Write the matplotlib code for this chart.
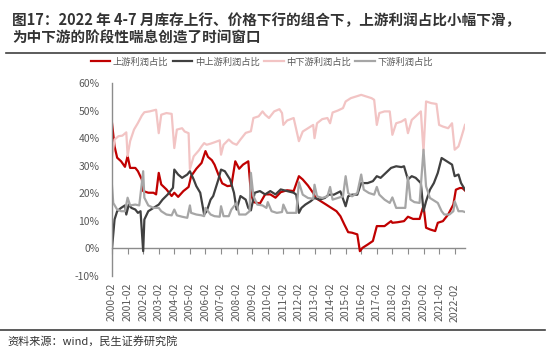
import matplotlib
matplotlib.use('Agg')
import matplotlib.pyplot as plt
import matplotlib.dates as mdates
import pandas as pd
from matplotlib.lines import Line2D

plt.rcParams['font.family'] = ['Noto Sans CJK SC', 'DejaVu Sans']

# ---------------- data (% share of profits) ----------------
series_names = ["上游利润占比", "中上游利润占比", "中下游利润占比", "下游利润占比"]

up_dates = ["2000-02", "2000-04", "2000-06", "2000-09", "2000-12",
            "2001-02", "2001-04", "2001-08", "2001-10",
            "2002-01", "2002-02", "2002-06", "2002-10", "2002-12",
            "2003-02", "2003-04", "2003-08", "2003-12",
            "2004-02", "2004-05", "2004-09",
            "2005-01", "2005-03", "2005-07", "2005-11",
            "2006-02", "2006-04", "2006-07", "2006-09", "2006-12",
            "2007-03", "2007-07", "2007-10",
            "2008-01", "2008-04", "2008-07", "2008-11",
            "2009-01", "2009-03", "2009-08", "2009-12",
            "2010-04", "2010-08", "2010-12",
            "2011-05", "2011-10",
            "2012-02", "2012-05", "2012-09",
            "2013-01", "2013-03", "2013-07", "2013-11",
            "2014-03", "2014-07", "2014-10",
            "2015-01", "2015-04", "2015-07", "2015-11",
            "2016-01", "2016-03", "2016-07", "2016-11",
            "2017-02", "2017-08",
            "2018-01", "2018-02", "2018-06", "2018-11",
            "2019-02", "2019-06", "2019-11",
            "2020-02", "2020-04", "2020-07", "2020-11",
            "2021-01", "2021-05", "2021-09",
            "2022-01", "2022-03", "2022-06", "2022-08", "2022-10"]
up_vals = [45.5, 37, 32.9, 31.6, 29.6,
           33.5, 29.2, 29.2, 28,
           25, 20.8, 20.2, 20.2, 19.6,
           27.4, 23.2, 21.4, 19,
           20.2, 18.7, 20.8,
           22.3, 26.2, 28.9, 31,
           35.3, 33.2, 32, 30.4, 26.8,
           23.6, 22.6, 22.8,
           31.6, 28.9, 30.4, 31.6,
           20.2, 16.8, 16.3, 19.6,
           19.6, 18.4, 20.4,
           21.1, 20.8,
           26.2, 25, 22.8,
           20.1, 18.3, 17.1, 15.9,
           14.7, 13.5, 11.7,
           8.7, 5.9, 5.7, 5.1,
           -1, 0.2, 1.4, 2.7,
           8.1, 8.1,
           9.9, 9.3, 9.5, 9.9,
           11.5, 10.7, 10.7,
           15.5, 7.5, 6.9, 6.3,
           9.3, 9.9, 12.3,
           15.9, 21.3, 21.9, 21.9, 21.0]

midup_dates = ["2000-02", "2000-04", "2000-06", "2000-09", "2000-12",
               "2001-01", "2001-03", "2001-05", "2001-08", "2001-10", "2001-12",
               "2002-02", "2002-03", "2002-06", "2002-10",
               "2003-02", "2003-05", "2003-09",
               "2004-01", "2004-02", "2004-05", "2004-08", "2004-12",
               "2005-02", "2005-05", "2005-07", "2005-10",
               "2006-01", "2006-03", "2006-06", "2006-08", "2006-12",
               "2007-02", "2007-05", "2007-09", "2007-12",
               "2008-02", "2008-05", "2008-09", "2008-11",
               "2009-01", "2009-04", "2009-08", "2009-12",
               "2010-04", "2010-08", "2010-12",
               "2011-05", "2011-10", "2011-12",
               "2012-02", "2012-04", "2012-07", "2012-11",
               "2013-02", "2013-06", "2013-10",
               "2014-01", "2014-05", "2014-10",
               "2015-02", "2015-04", "2015-07", "2015-11",
               "2016-02", "2016-07", "2016-11",
               "2017-02", "2017-05", "2017-09",
               "2018-01", "2018-05", "2018-09", "2018-11",
               "2019-02", "2019-05", "2019-08", "2019-12",
               "2020-02", "2020-04", "2020-07", "2020-10",
               "2021-01", "2021-04", "2021-08", "2021-12",
               "2022-02", "2022-05", "2022-07", "2022-10"]
midup_vals = [0, 10.5, 13.5, 14.7, 15.6,
              12.3, 15.9, 14.7, 14.1, 12.9, 13.5,
              -1, 10.5, 13.5, 14.7,
              15.9, 17.7, 19.6,
              22, 28.6, 26.8, 25.6, 26.8,
              28, 25, 22.6, 20.2,
              12.3, 13.5, 17.7, 19, 25,
              28.6, 28, 25, 20.2,
              14.1, 19, 17.7, 14.7,
              13.8, 20.2, 20.8, 19.6,
              20.8, 19.6, 21.4,
              20.8, 20.2, 19.5,
              12.9, 14.7, 15.9, 17.1,
              18.3, 17.7, 18.3,
              19.5, 19.5, 20.7,
              15.3, 18.9, 19.5, 19.5,
              23.7, 23.7, 24.4,
              26.2, 25.6, 27.4,
              29.2, 29.8, 29.5, 29.8,
              25, 26.2, 25.6, 23.7,
              13.5, 17.1, 21.3, 23.7,
              27.4, 32.8, 31.6, 30.4,
              26.2, 26.8, 23.7, 21.3]

middown_dates = ["2000-02", "2000-04", "2000-07", "2000-10",
                 "2001-01", "2001-02", "2001-04", "2001-07", "2001-10",
                 "2002-01", "2002-03", "2002-07", "2002-12",
                 "2003-02", "2003-04", "2003-08", "2003-12",
                 "2004-02", "2004-04", "2004-08", "2004-10",
                 "2005-01", "2005-02", "2005-05", "2005-09", "2005-11",
                 "2006-01", "2006-03", "2006-06", "2006-09",
                 "2007-01", "2007-02", "2007-04", "2007-08", "2007-11",
                 "2008-02", "2008-05", "2008-09",
                 "2009-01", "2009-03", "2009-07", "2009-10", "2009-12",
                 "2010-03", "2010-07", "2010-11",
                 "2011-01", "2011-02", "2011-05", "2011-10",
                 "2012-02", "2012-05", "2012-09",
                 "2013-01", "2013-02", "2013-04", "2013-08", "2013-12",
                 "2014-02", "2014-04", "2014-08", "2014-12",
                 "2015-02", "2015-06", "2015-10",
                 "2016-02", "2016-06", "2016-10", "2016-12",
                 "2017-02", "2017-04", "2017-08", "2017-12",
                 "2018-02", "2018-05", "2018-09", "2018-12",
                 "2019-02", "2019-05", "2019-08", "2019-12",
                 "2020-02", "2020-04", "2020-08", "2020-12",
                 "2021-02", "2021-05", "2021-09", "2021-12",
                 "2022-02", "2022-05", "2022-07", "2022-10"]
middown_vals = [32.9, 39.5, 40.7, 40.9,
                42.1, 33.5, 38.9, 43.1, 45.5,
                48.2, 49.4, 49.7, 50.3,
                41.8, 48.5, 49.1, 48.8,
                36.4, 43.1, 43.6, 42.4,
                41.8, 28.8, 33.4, 35.6, 37,
                38.2, 37.6, 38, 38.5,
                39.2, 34, 37.6, 39.5, 38.2,
                37.6, 39.5, 41.9,
                42.5, 47.3, 47.9, 49.7, 48.5,
                47.3, 49.7, 50.5,
                49.1, 44.8, 46.4, 47.3,
                38.9, 42.4, 43.6,
                44.8, 40, 45.4, 46.9, 47.3,
                45.4, 49.3, 50, 50.9,
                53.3, 54.5, 55.1,
                55.7, 55.1, 54.5, 53.9,
                44.8, 49.1, 49.7, 49.7,
                41.2, 45.4, 46, 46.9,
                41.8, 46.6, 47.9, 49.7,
                35, 53.3, 52.7, 52.4,
                44.8, 44.2, 43.6, 45.4,
                35.8, 37, 40, 44.8]

down_dates = ["2000-02", "2000-03", "2000-06", "2000-09", "2000-12",
              "2001-02", "2001-04", "2001-08", "2001-11",
              "2002-02", "2002-03", "2002-06", "2002-10",
              "2003-02", "2003-04", "2003-08", "2003-12",
              "2004-02", "2004-04", "2004-08", "2004-12",
              "2005-02", "2005-03", "2005-07", "2005-11",
              "2006-01", "2006-02", "2006-06", "2006-09",
              "2007-01", "2007-02", "2007-04", "2007-08", "2007-10",
              "2008-02", "2008-04", "2008-09", "2008-12",
              "2009-01", "2009-03", "2009-06", "2009-10",
              "2010-01", "2010-02", "2010-05", "2010-09",
              "2011-01", "2011-02", "2011-05", "2011-10", "2011-12",
              "2012-02", "2012-05", "2012-09",
              "2013-01", "2013-02", "2013-04", "2013-08", "2013-12",
              "2014-02", "2014-04", "2014-08", "2014-12",
              "2015-02", "2015-04", "2015-07", "2015-11",
              "2016-02", "2016-04", "2016-08", "2016-12",
              "2017-02", "2017-04", "2017-08", "2017-12",
              "2018-02", "2018-05", "2018-09", "2018-12",
              "2019-02", "2019-04", "2019-07", "2019-11",
              "2020-02", "2020-04", "2020-07", "2020-11",
              "2021-01", "2021-04", "2021-06", "2021-10",
              "2022-01", "2022-02", "2022-05", "2022-08", "2022-10"]
down_vals = [22.6, 16.5, 14.1, 13.5, 13.5,
             18.4, 15.6, 15.9, 15.6,
             28, 18.4, 15.6, 14.7,
             14.7, 13.5, 12.3, 12,
             14.1, 12, 11.5, 11.1,
             15.6, 12.9, 12.3, 12,
             11.7, 14.7, 12.3, 11.7,
             11.5, 15.3, 11.7, 11.7, 14.1,
             16.5, 12.3, 12.3, 13.5,
             27.4, 19, 15.9, 15.6,
             14.7, 16.8, 13.5, 12.9,
             13.2, 15.9, 12.9, 12.9, 12.9,
             24, 19.5, 18.3,
             18, 23.1, 18.9, 18.3, 18.9,
             22.3, 17.7, 18.3, 18.9,
             26.2, 20.1, 18.9, 20.1,
             26.8, 21.3, 20.1, 19.5,
             22.3, 19.5, 17.7, 16.5,
             18.5, 14.7, 14.7, 14.7,
             26, 17.7, 16.8, 16.5,
             35.8, 22.5, 18.3, 17.1,
             16.5, 13.5, 12.3, 12.3,
             13.5, 17.1, 13.5, 13.5, 13.2]

tick_labels = [f"{y}-02" for y in range(2000, 2023)]
y_ticks = [-10, 0, 10, 20, 30, 40, 50, 60]

# ---------------- styling ----------------
colors = ["#C00000", "#404040", "#F2C4C4", "#A6A6A6"]
label_col = "#595959"
axis_col = "#8C8C8C"


def dn(lst):
    return mdates.date2num(pd.to_datetime(lst, format="%Y-%m"))


fig = plt.figure(figsize=(5.5, 3.55), dpi=100)
ax = fig.add_axes([112 / 550, 1 - 276 / 355, 353 / 550, 193 / 355])

all_series = [(up_dates, up_vals), (midup_dates, midup_vals),
              (middown_dates, middown_vals), (down_dates, down_vals)]
handles = []
for (d, v), c, name in zip(all_series, colors, series_names):
    ln, = ax.plot(dn(d), v, color=c, lw=1.6, label=name, solid_joinstyle='round')
    handles.append(ln)

ax.set_ylim(-10, 60)
ax.set_xlim(dn(["2000-02"])[0], dn(["2022-10"])[0])
ax.set_yticks(y_ticks)
ax.set_yticklabels([f"{v}%" for v in y_ticks])
ax.tick_params(axis='y', length=0, pad=9, labelsize=7.5, labelcolor=label_col)

tick_pos = dn(tick_labels)
ax.set_xticks(tick_pos)
ax.set_xticklabels(tick_labels, rotation=90)
ax.tick_params(axis='x', length=0, pad=5, labelsize=7.5, labelcolor=label_col)

for s in ['top', 'right', 'bottom']:
    ax.spines[s].set_visible(False)
ax.spines['left'].set_color(axis_col)
ax.spines['left'].set_linewidth(1.0)

sec = ax.secondary_xaxis(10 / 70)
sec.set_xticks(tick_pos)
sec.set_xticklabels([])
sec.tick_params(direction='out', length=4, color=axis_col, width=0.8)
sec.spines['bottom'].set_color(axis_col)
sec.spines['bottom'].set_linewidth(1.0)
sec.spines['top'].set_visible(False)

fig.legend(handles, series_names, loc='center', bbox_to_anchor=(0.476, 0.825),
           ncol=4, frameon=False, fontsize=6.7, handlelength=2.1,
           columnspacing=0.5, handletextpad=0.25, labelcolor=label_col)

fig.text(0.022, 0.944, "图17：2022 年 4-7 月库存上行、价格下行的组合下，上游利润占比小幅下滑，",
         fontsize=10.5, weight='bold', color='#333333', va='center')
fig.text(0.022, 0.893, "为中下游的阶段性喘息创造了时间窗口",
         fontsize=10.5, weight='bold', color='#333333', va='center')

fig.add_artist(Line2D([0.011, 0.991], [0.851, 0.851], color='#404040', lw=1.2,
                      transform=fig.transFigure))
fig.add_artist(Line2D([0.0, 0.991], [0.0704, 0.0704], color='#404040', lw=1.2,
                      transform=fig.transFigure))
fig.text(0.013, 0.039, "资料来源：wind，民生证券研究院", fontsize=8,
         color='#333333', va='center')

fig.savefig("out.png", dpi=100)
